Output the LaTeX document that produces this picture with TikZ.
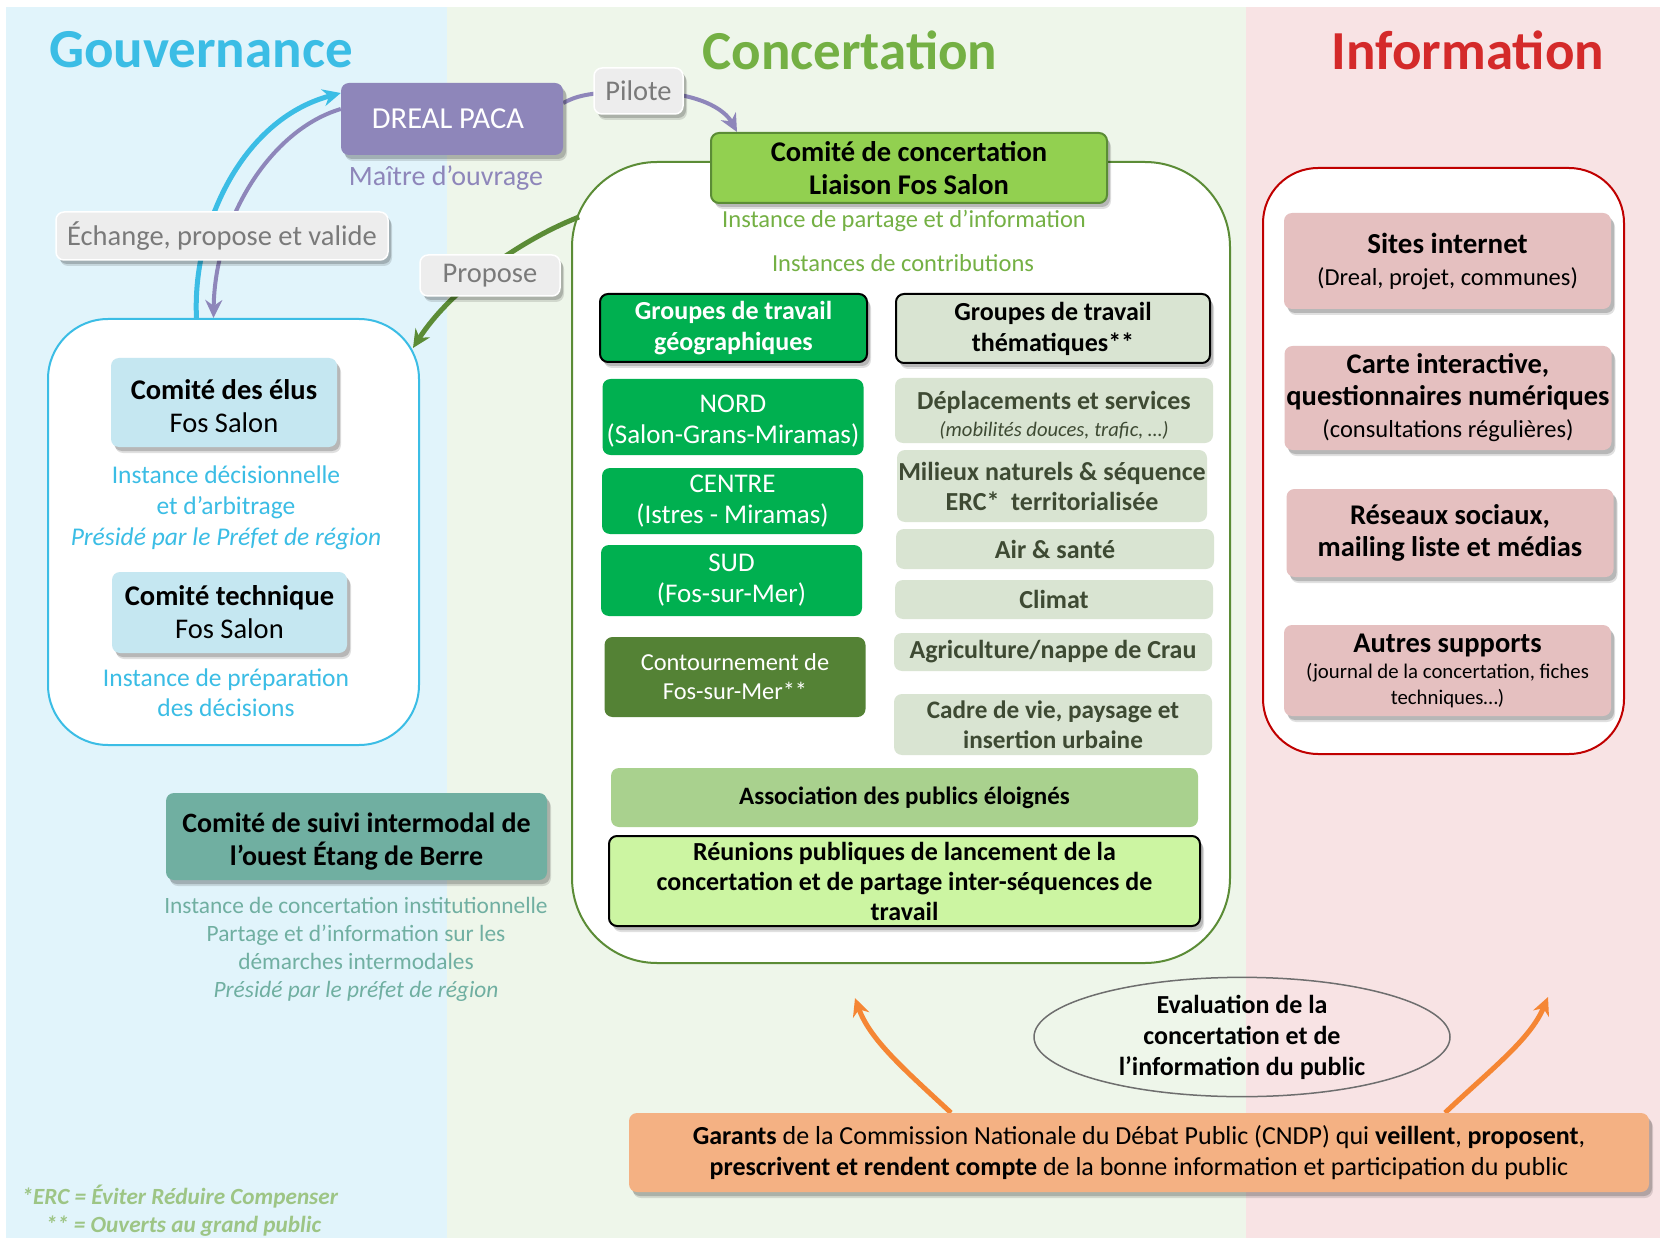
\documentclass[tikz,border=0pt]{standalone}
\usepackage{fontspec}
\setmainfont{Carlito}
\usetikzlibrary{shadows,shapes.geometric,arrows.meta}

\definecolor{govband}{HTML}{E1F4FB}
\definecolor{concband}{HTML}{EEF6EA}
\definecolor{infoband}{HTML}{F8E3E4}
\definecolor{govblue}{HTML}{3BBDE5}
\definecolor{concgreen}{HTML}{74B044}
\definecolor{infotitle}{HTML}{D42A2A}
\definecolor{infoline}{HTML}{C00000}
\definecolor{dreal}{HTML}{8E86BA}
\definecolor{taggray}{HTML}{EDEDED}
\definecolor{tagtext}{HTML}{7A7A7A}
\definecolor{comgreen}{HTML}{92D050}
\definecolor{concline}{HTML}{5B8C36}
\definecolor{geogreen}{HTML}{00B050}
\definecolor{themgray}{HTML}{D9E4D2}
\definecolor{themtext}{HTML}{3E4A33}
\definecolor{darkgreen}{HTML}{548235}
\definecolor{assocgreen}{HTML}{A9D18E}
\definecolor{limegreen}{HTML}{CCF5A2}
\definecolor{elublue}{HTML}{C5E7F1}
\definecolor{suiviteal}{HTML}{70AFA1}
\definecolor{notegreen}{HTML}{9DC585}
\definecolor{infopink}{HTML}{E5C0C0}
\definecolor{garantorange}{HTML}{F4B183}
\definecolor{arroworange}{HTML}{F58634}
\definecolor{evalgray}{HTML}{6E6E6E}

\newcommand{\fsz}[2]{\fontsize{#1}{#2}\selectfont}

\pgfdeclarelayer{back}
\pgfdeclarelayer{links}
\pgfsetlayers{back,links,main}

\tikzset{
  card/.style={rounded corners=8pt, inner sep=0pt, align=center},
  boxshadow/.style={drop shadow={shadow xshift=4pt, shadow yshift=-6pt, opacity=0.12, fill=black},
                    drop shadow={shadow xshift=3pt, shadow yshift=-4pt, opacity=0.18, fill=black}},
  tagbox/.style={card, boxshadow, draw=white, line width=1.5pt, fill=taggray, text=tagtext, font={\fsz{28.5}{32}}},
  geobox/.style={card, fill=geogreen, text=white, font={\fsz{27}{31}}, minimum width=261pt},
  thembox/.style={card, fill=themgray, text=themtext, font={\fsz{26}{30}\bfseries}, minimum width=318pt},
  infocard/.style={card, boxshadow, fill=infopink, font={\fsz{28.5}{32}}, minimum width=327pt},
  container/.style={line width=2pt, fill=white, inner sep=0pt}
}

\begin{document}
\begin{tikzpicture}[x=1pt, y=-1pt, >={Stealth[length=18pt,width=17pt]}]
\useasboundingbox (0,0) rectangle (1660,1238);

% bands and containers
\begin{pgfonlayer}{back}
  \fill[white] (0,0) rectangle (1660,1238);
  \fill[govband] (6,7) rectangle (447,1238);
  \fill[concband] (447,7) rectangle (1246,1238);
  \fill[infoband] (1246,7) rectangle (1660,1238);
  \node[container, draw=govblue, rounded corners=60pt, minimum width=371pt, minimum height=426pt] (govbox) at (233.5,532) {};
  \node[container, draw=concline, rounded corners=85pt, minimum width=658pt, minimum height=801pt] (concbox) at (901,562.5) {};
  \node[container, draw=infoline, rounded corners=55pt, minimum width=361pt, minimum height=586pt] (infobox) at (1443.5,461) {};
\end{pgfonlayer}

% titles
\node[text=govblue, font={\fsz{55}{60}\bfseries}] (govtitle) at (201,50) {Gouvernance};
\node[text=concgreen, font={\fsz{55}{60}\bfseries}] (conctitle) at (850,50) {Concertation};
\node[text=infotitle, font={\fsz{55}{60}\bfseries}] (infotitle) at (1468,50) {Information};

% gouvernance
\node[card, boxshadow, fill=dreal, text=white, font={\fsz{30.5}{34}}, minimum width=222pt, minimum height=72pt] (dreal) at (452,119) {DREAL PACA\hspace*{8pt}};
\node[text=dreal, font={\fsz{28}{32}}] (moa) at (446,178) {Maître d’ouvrage};
\node[tagbox, minimum width=89pt, minimum height=46pt] (pilote) at (638.5,91) {Pilote};
\node[tagbox, minimum width=332pt, minimum height=48pt] (echange) at (222,236) {Échange, propose et valide};
\node[tagbox, minimum width=140pt, minimum height=41pt] (propose) at (490,275.5) {Propose};

\node[card, boxshadow, fill=elublue, font={\fsz{28.5}{33}}, minimum width=226pt, minimum height=89pt] (elus) at (224,402.5) {\rule{0pt}{27pt}\textbf{Comité des élus}\\Fos Salon};
\node[text=govblue, font={\fsz{25.5}{31}}, align=center] (decision) at (226,508) {Instance décisionnelle\\et d’arbitrage\\\textit{Présidé par le Préfet de région}};
\node[card, boxshadow, fill=elublue, font={\fsz{28.5}{33}}, minimum width=235pt, minimum height=81pt] (technique) at (229.5,612.5) {\textbf{Comité technique}\\Fos Salon};
\node[text=govblue, font={\fsz{25.5}{29.5}}, align=center] (preparation) at (226,692.5) {Instance de préparation\\des décisions};

\node[card, boxshadow, fill=suiviteal, font={\fsz{28}{33}\bfseries}, minimum width=381pt, minimum height=87pt] (suivi) at (356.5,836.5) {\rule{0pt}{29pt}Comité de suivi intermodal de\\l’ouest Étang de Berre};
\node[text=suiviteal, font={\fsz{23.4}{28}}, align=center] (institution) at (356,949.5) {Instance de concertation institutionnelle\\Partage et d’information sur les\\démarches intermodales\\\textit{Présidé par le préfet de région}};

\node[anchor=west, text=notegreen, font={\fsz{23.2}{26}\bfseries\itshape}] (erc) at (18,1197) {*ERC = Éviter Réduire Compenser};
\node[anchor=west, text=notegreen, font={\fsz{23.2}{26}\bfseries\itshape}] (ouverts) at (42,1226) {** = Ouverts au grand public};

% concertation
\node[card, boxshadow, draw=concline, line width=2pt, fill=comgreen, font={\fsz{28.5}{33}\bfseries}, minimum width=396pt, minimum height=70pt] (comite) at (909,168) {Comité de concertation\\Liaison Fos Salon};
\node[text=concgreen, font={\fsz{24.5}{28}}] (partage) at (904,221) {Instance de partage et d’information};
\node[text=concgreen, font={\fsz{24.5}{28}}] (contrib) at (903,263) {Instances de contributions};

\node[card, boxshadow, draw=black, line width=2pt, fill=geogreen, text=white, font={\fsz{26}{31}\bfseries}, minimum width=267pt, minimum height=68pt] (geo) at (733.5,328) {Groupes de travail\\géographiques};
\node[card, boxshadow, draw=black, line width=2pt, fill=themgray, font={\fsz{26}{31}\bfseries}, minimum width=314pt, minimum height=69pt] (them) at (1053,328.5) {Groupes de travail\\thématiques**};

\node[geobox, minimum height=76pt] (nord) at (733,417) {\rule{0pt}{25pt}NORD\\(Salon-Grans-Miramas)};
\node[geobox, minimum height=66pt] (centre) at (732.5,501) {CENTRE\\(Istres - Miramas)};
\node[geobox, minimum height=71pt] (sud) at (731.5,580.5) {SUD\\(Fos-sur-Mer)};
\node[geobox, fill=darkgreen, font={\fsz{24.4}{29}}, minimum height=80pt] (contournement) at (735,677) {Contournement de\\Fos-sur-Mer**};

\node[thembox, font={\fsz{20.6}{27}\itshape}, minimum height=65pt] (deplacements) at (1054,410.5) {\rule{0pt}{27pt}{\fsz{26}{27}\bfseries\upshape Déplacements et services}\\(mobilités douces, trafic, …)};
\node[thembox, minimum width=310pt, minimum height=72pt] (milieux) at (1052,486) {Milieux naturels \& séquence\\ERC*~~territorialisée};
\node[thembox, minimum height=40pt] (air) at (1055,549) {Air \& santé};
\node[thembox, minimum height=39pt] (climat) at (1054,599.5) {Climat};
\node[thembox, minimum height=38pt] (agri) at (1053,652) {Agriculture/nappe de Crau};
\node[thembox, font={\fsz{25.2}{30.5}\bfseries}, minimum height=61pt] (cadre) at (1053,724.5) {Cadre de vie, paysage et\\insertion urbaine};

\node[card, fill=assocgreen, font={\fsz{25}{30}\bfseries}, minimum width=587pt, minimum height=59pt] (assoc) at (904.5,797.5) {Association des publics éloignés};
\node[card, boxshadow, draw=black, line width=2pt, fill=limegreen, font={\fsz{26}{30}\bfseries}, minimum width=591pt, minimum height=90pt] (reunions) at (904.5,881) {Réunions publiques de lancement de la\\concertation et de partage inter-séquences de\\travail};

% information
\node[infocard, font={\fsz{24.5}{32}}, minimum height=96pt] (sites) at (1447.5,261) {{\fsz{29}{32}\bfseries Sites internet}\\(Dreal, projet, communes)};
\node[infocard, minimum height=104pt] (carte) at (1448,398) {\textbf{Carte interactive,}\\\textbf{questionnaires numériques}\\{\fsz{24.5}{28}(consultations régulières)}};
\node[infocard, minimum height=88pt] (reseaux) at (1450,533) {\textbf{Réseaux sociaux,}\\\textbf{mailing liste et médias}};
\node[infocard, font={\fsz{20.8}{26}}, minimum height=91pt] (autres) at (1447.5,670.5) {{\fsz{28.5}{32}\bfseries Autres supports}\\(journal de la concertation, fiches\\techniques…)};

% garants
\node[ellipse, draw=evalgray, line width=1.5pt, inner sep=0pt, align=center, font={\fsz{26}{31}\bfseries}, minimum width=416pt, minimum height=116pt] (evaluation) at (1242,1037) {Evaluation de la\\concertation et de\\l’information du public};
\node[card, boxshadow, fill=garantorange, font={\fsz{26}{31}}, minimum width=1020pt, minimum height=79pt] (garants) at (1139,1152.5) {\textbf{Garants} de la Commission Nationale du Débat Public (CNDP) qui \textbf{veillent}, \textbf{proposent},\\\textbf{prescrivent et rendent compte} de la bonne information et participation du public};
\coordinate (conctip) at (855,998);
\coordinate (infotip) at (1548,997);

% arrows
\begin{pgfonlayer}{links}
  \draw[->, govblue, line width=5pt] ([xshift=-37pt]govbox.north) .. controls (192,230) and (240,120) .. ([yshift=26pt]dreal.west);
  \draw[->, dreal, line width=4pt] ([yshift=10pt]dreal.west) .. controls (270,130) and (215,220) .. ([xshift=-20pt]govbox.north);
  \draw[dreal, line width=4pt] ([yshift=16pt]dreal.east) .. controls (575,97) and (585,92) .. (pilote.center);
  \draw[->, dreal, line width=4pt] (pilote.center) .. controls (700,92) and (725,110) .. ([xshift=27pt]comite.north west);
  \draw[->, concline, line width=5pt] ([shift={(8pt,-56pt)}]concbox.north west) .. controls (520,240) and (450,290) .. ([shift={(-7pt,-30pt)}]govbox.north east);
  \draw[->, arroworange, line width=5pt] ([xshift=-188pt]garants.north) .. controls (905,1070) and (870,1040) .. (conctip);
  \draw[->, arroworange, line width=5pt] ([xshift=306pt]garants.north) .. controls (1490,1070) and (1530,1040) .. (infotip);
\end{pgfonlayer}
\end{tikzpicture}
\end{document}
